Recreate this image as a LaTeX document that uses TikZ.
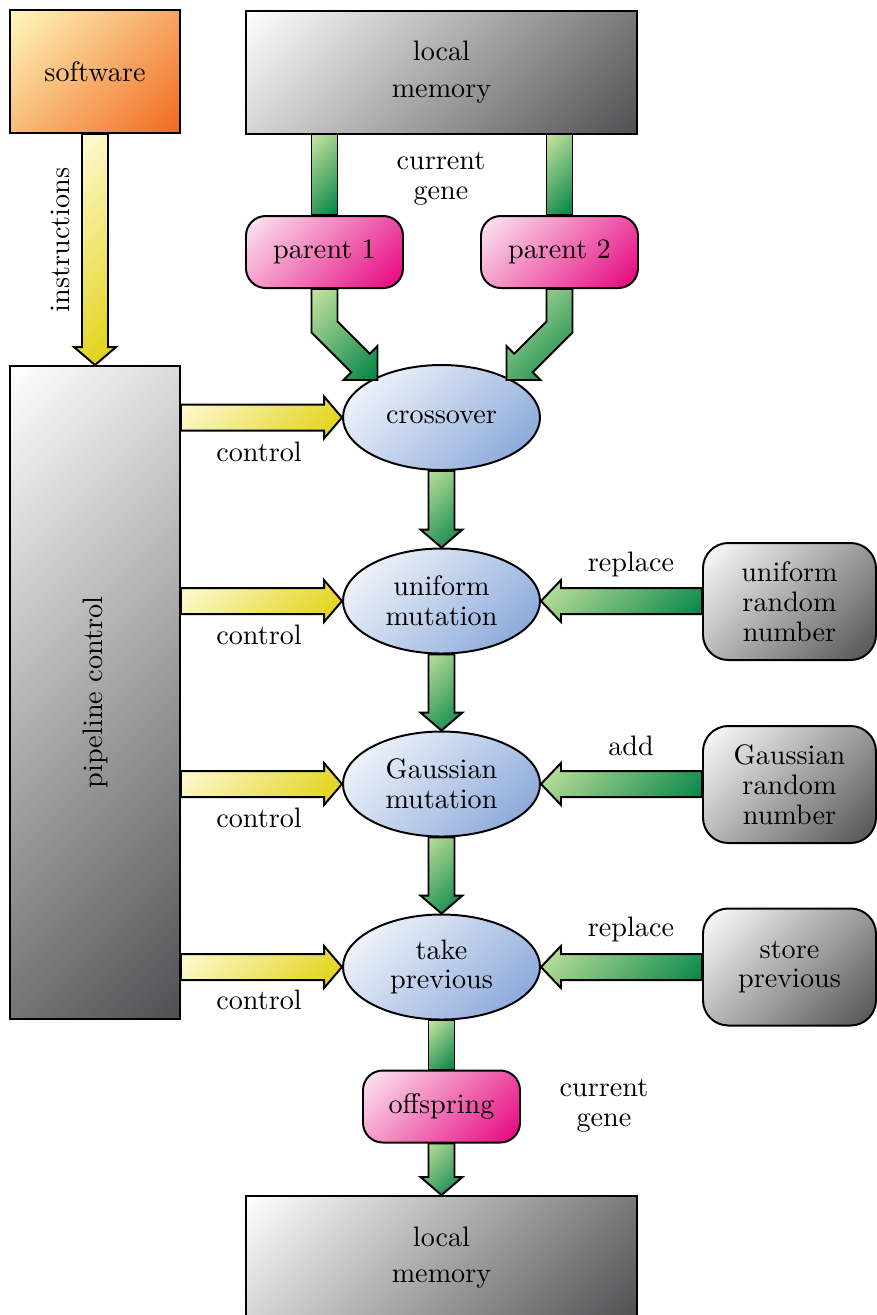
\documentclass[tikz,border=0pt]{standalone}
\usepackage{graphicx}
\usetikzlibrary{shapes.geometric,calc}

\newcommand{\pxu}{0.355pt}

\definecolor{softlight}{RGB}{255,248,190}
\definecolor{softdark}{RGB}{240,105,30}
\definecolor{memdark}{RGB}{80,80,82}
\definecolor{pinklight}{RGB}{252,235,242}
\definecolor{pinkdark}{RGB}{230,0,125}
\definecolor{bluedark}{RGB}{125,158,214}
\definecolor{greenlight}{RGB}{200,228,160}
\definecolor{greendark}{RGB}{0,130,70}
\definecolor{yellowlight}{RGB}{255,252,220}
\definecolor{yellowdark}{RGB}{224,208,10}

% corner to corner gradients (used with shading angle=45)
\pgfdeclareverticalshading{softshade}{100bp}{color(0bp)=(softdark); color(14.6bp)=(softdark); color(85.4bp)=(softlight); color(100bp)=(softlight)}
\pgfdeclareverticalshading{memshade}{100bp}{color(0bp)=(memdark); color(14.6bp)=(memdark); color(85.4bp)=(white); color(100bp)=(white)}
\pgfdeclareverticalshading{pinkshade}{100bp}{color(0bp)=(pinkdark); color(14.6bp)=(pinkdark); color(85.4bp)=(pinklight); color(100bp)=(pinklight)}
\pgfdeclareverticalshading{blueshade}{100bp}{color(0bp)=(bluedark); color(14.6bp)=(bluedark); color(85.4bp)=(white); color(100bp)=(white)}
\pgfdeclareverticalshading{greenshade}{100bp}{color(0bp)=(greendark); color(14.6bp)=(greendark); color(85.4bp)=(greenlight); color(100bp)=(greenlight)}
\pgfdeclareverticalshading{yellowshade}{100bp}{color(0bp)=(yellowdark); color(14.6bp)=(yellowdark); color(85.4bp)=(yellowlight); color(100bp)=(yellowlight)}

\tikzset{
  block/.style={draw, line width=0.7pt, inner sep=0pt, align=center},
  softbox/.style={block, shade, shading=softshade, shading angle=45},
  membox/.style={block, shade, shading=memshade, shading angle=45},
  genebox/.style={block, rounded corners=7pt, shade, shading=pinkshade, shading angle=45,
    minimum width=157*\pxu, minimum height=72*\pxu},
  randbox/.style={block, rounded corners=9pt, shade, shading=memshade, shading angle=45,
    minimum width=173*\pxu, minimum height=117*\pxu},
  stage/.style={block, ellipse, shade, shading=blueshade, shading angle=45,
    minimum width=197*\pxu, minimum height=105*\pxu},
  greenarrow/.style={draw, line width=0.7pt, shade, shading=greenshade, shading angle=45},
  yellowarrow/.style={draw, line width=0.7pt, shade, shading=yellowshade, shading angle=45},
}

% fat arrows between two anchors
\newcommand{\fatdown}[3]{%
  \path[#1] let \p1=(#2), \p2=(#3) in
    (\x1-13*\pxu,\y1) -- (\x1-13*\pxu,\y2+18*\pxu) -- (\x1-21*\pxu,\y2+18*\pxu) -- (\x1,\y2)
    -- (\x1+21*\pxu,\y2+18*\pxu) -- (\x1+13*\pxu,\y2+18*\pxu) -- (\x1+13*\pxu,\y1) -- cycle;}
\newcommand{\fatbar}[3]{%
  \path[#1] let \p1=(#2), \p2=(#3) in
    (\x1-13*\pxu,\y1) rectangle (\x1+13*\pxu,\y2);}
\newcommand{\fatright}[3]{%
  \path[#1] let \p1=(#2), \p2=(#3) in
    (\x1,\y2+13*\pxu) -- (\x2-18*\pxu,\y2+13*\pxu) -- (\x2-18*\pxu,\y2+21*\pxu) -- (\x2,\y2)
    -- (\x2-18*\pxu,\y2-21*\pxu) -- (\x2-18*\pxu,\y2-13*\pxu) -- (\x1,\y2-13*\pxu) -- cycle;}
\newcommand{\fatleft}[3]{%
  \path[#1] let \p1=(#2), \p2=(#3) in
    (\x1,\y2+13*\pxu) -- (\x2+20*\pxu,\y2+13*\pxu) -- (\x2+20*\pxu,\y2+21*\pxu) -- (\x2,\y2)
    -- (\x2+20*\pxu,\y2-21*\pxu) -- (\x2+20*\pxu,\y2-13*\pxu) -- (\x1,\y2-13*\pxu) -- cycle;}

\begin{document}
\begin{tikzpicture}[x=\pxu, y=-\pxu, font=\fontsize{10pt}{10.6pt}\selectfont]

\useasboundingbox (0,0) rectangle (877,1315);

\node[softbox, minimum width=170*\pxu, minimum height=123*\pxu] (software) at (95,71.5) {software};
\node[membox, minimum width=391*\pxu, minimum height=123*\pxu, font=\fontsize{10pt}{13pt}\selectfont] (memtop) at (441.5,72) {local\\memory};
\node[genebox] (parent1) at (324.5,252) {parent 1};
\node[genebox] (parent2) at (559.5,252) {parent 2};
\node[align=center] (genetop) at (441,179) {current\\gene};

\node[membox, minimum width=170*\pxu, minimum height=653*\pxu] (pipe) at (95,692.5) {\rotatebox{90}{pipeline control}};
\node[rotate=90] (instr) at (60,240) {instructions};

\node[stage] (cross) at (441.5,417.5) {crossover};
\node[stage] (unimut) at (441.5,601) {uniform\\mutation};
\node[stage] (gaussmut) at (441.5,784) {Gaussian\\mutation};
\node[stage] (takeprev) at (441.5,967) {take\\previous};

\node[randbox] (unirand) at (789.5,601.5) {uniform\\random\\number};
\node[randbox] (gaussrand) at (789.5,784.5) {Gaussian\\random\\number};
\node[randbox] (storeprev) at (789.5,967) {store\\previous};

\node (ctrl1) at (259,452) {control};
\node (ctrl2) at (259,635) {control};
\node (ctrl3) at (259,818) {control};
\node (ctrl4) at (259,1000) {control};

\node (repl1) at (631,564) {replace};
\node (addlab) at (631,746) {add};
\node (repl2) at (631,929) {replace};

\node[genebox] (offspring) at (441.5,1106.5) {offspring};
\node[align=center] (genebot) at (604,1106) {current\\gene};
\node[membox, minimum width=391*\pxu, minimum height=123*\pxu, font=\fontsize{10pt}{13pt}\selectfont] (membot) at (441.5,1257.5) {local\\memory};

\fatdown{yellowarrow}{software.south}{pipe.north}

\fatbar{greenarrow}{memtop.south -| parent1.north}{parent1.north}
\fatbar{greenarrow}{memtop.south -| parent2.north}{parent2.north}

\path[greenarrow] ($(parent1.south)+(-13,0)$) -- ++(0,43.4) -- ++(39.8,39.8) -- ++(-7.8,7.8) -- ++(34,0)
  -- ++(0,-34) -- ++(-7.8,7.8) -- ++(-32.2,-32.2) -- ++(0,-32.6) -- cycle;
\path[greenarrow] ($(parent2.south)+(13,0)$) -- ++(0,43.4) -- ++(-39.8,39.8) -- ++(7.8,7.8) -- ++(-34,0)
  -- ++(0,-34) -- ++(7.8,7.8) -- ++(32.2,-32.2) -- ++(0,-32.6) -- cycle;

\fatright{yellowarrow}{pipe.east |- cross.west}{cross.west}
\fatright{yellowarrow}{pipe.east |- unimut.west}{unimut.west}
\fatright{yellowarrow}{pipe.east |- gaussmut.west}{gaussmut.west}
\fatright{yellowarrow}{pipe.east |- takeprev.west}{takeprev.west}

\fatdown{greenarrow}{cross.south}{unimut.north}
\fatdown{greenarrow}{unimut.south}{gaussmut.north}
\fatdown{greenarrow}{gaussmut.south}{takeprev.north}

\fatleft{greenarrow}{unirand.west}{unimut.east}
\fatleft{greenarrow}{gaussrand.west}{gaussmut.east}
\fatleft{greenarrow}{storeprev.west}{takeprev.east}

\fatbar{greenarrow}{takeprev.south}{offspring.north}
\fatdown{greenarrow}{offspring.south}{membot.north}

\end{tikzpicture}
\end{document}
